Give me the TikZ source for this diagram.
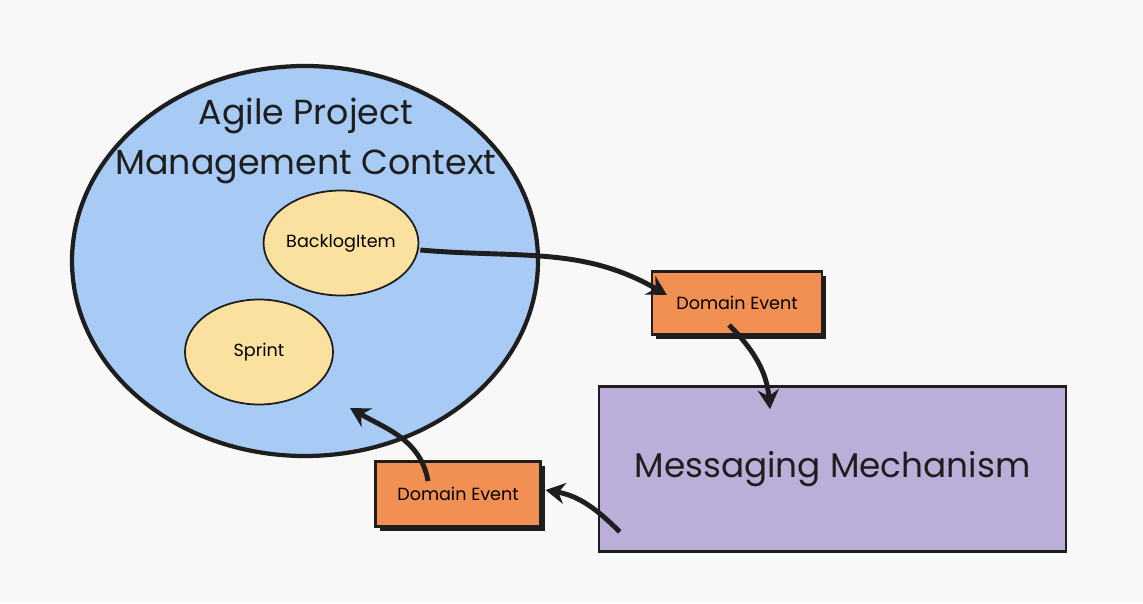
\documentclass[tikz,border=0pt]{standalone}
\usepackage{fontspec}
\setmainfont{Poppins}
\usetikzlibrary{positioning, arrows.meta, shapes.geometric, shadows}
\definecolor{bggrey}{RGB}{248,248,248}
\definecolor{ctxblue}{RGB}{168,203,245}
\definecolor{entyellow}{RGB}{250,225,160}
\definecolor{evorange}{RGB}{242,143,82}
\definecolor{msgpurple}{RGB}{187,174,216}
\definecolor{ink}{RGB}{30,30,30}

\begin{document}
\begin{tikzpicture}[
    ent/.style={draw=ink, line width=1pt, ellipse, fill=entyellow, minimum width=2.96cm, minimum height=2.1cm, inner sep=0pt, font=\fontsize{10}{12}\selectfont},
    evbox/.style={draw=ink, line width=1.2pt, fill=evorange, minimum width=3.4cm, minimum height=1.26cm, font=\fontsize{10}{12}\selectfont,
        drop shadow={shadow xshift=2.5pt, shadow yshift=-2.5pt, fill=ink, opacity=1}},
    flow/.style={line width=2.8pt, draw=ink, -{Stealth[length=11pt, width=12pt]}}
]
        \useasboundingbox[fill=bggrey] (0,0) rectangle (22.86,12.06);
        % bounded context
        \draw (6.10,6.84) node[draw=ink, line width=2.4pt, ellipse, fill=ctxblue, minimum width=9.32cm, minimum height=7.8cm] (ctx) {};
        \draw (6.12,9.24) node[align=center, text=ink, font=\fontsize{19.8}{28}\selectfont] (title) {Agile Project\\Management Context};
        \draw (6.82,7.20) node[ent] (item) {BacklogItem}
              (5.18,5.02) node[ent] (sprint) {Sprint};
        % events and messaging
        \draw (14.74,6.00) node[evbox] (evout) {Domain Event}
              (9.16,2.18) node[evbox, minimum width=3.3cm, minimum height=1.3cm] (evin) {Domain Event};
        \draw (16.65,2.68) node[draw=ink, line width=1.5pt, fill=msgpurple, minimum width=9.34cm, minimum height=3.3cm, text=ink, font=\fontsize{19.5}{24}\selectfont] (msg) {Messaging Mechanism};
        \coordinate (outhit) at ([xshift=0.32cm, yshift=0.16cm]evout.west);
        \coordinate (msghit) at ([xshift=-1.25cm, yshift=-0.48cm]msg.north);
        \coordinate (inhit) at ([xshift=0.90cm, yshift=-2.94cm]ctx.center);
        \draw[flow] ([xshift=0.02cm, yshift=-0.14cm]item.east) to[out=-5, in=150] (outhit);
        \draw[flow] ([xshift=-0.16cm, yshift=-0.44cm]evout.center) to[out=-45, in=95] (msghit);
        \draw[flow] ([xshift=0.44cm, yshift=0.42cm]msg.south west) to[out=135, in=-10] ([xshift=0.08cm, yshift=0.08cm]evin.east);
        \draw[flow] ([xshift=-0.60cm, yshift=0.26cm]evin.center) to[out=100, in=-30] (inhit);
\end{tikzpicture}
\end{document}
